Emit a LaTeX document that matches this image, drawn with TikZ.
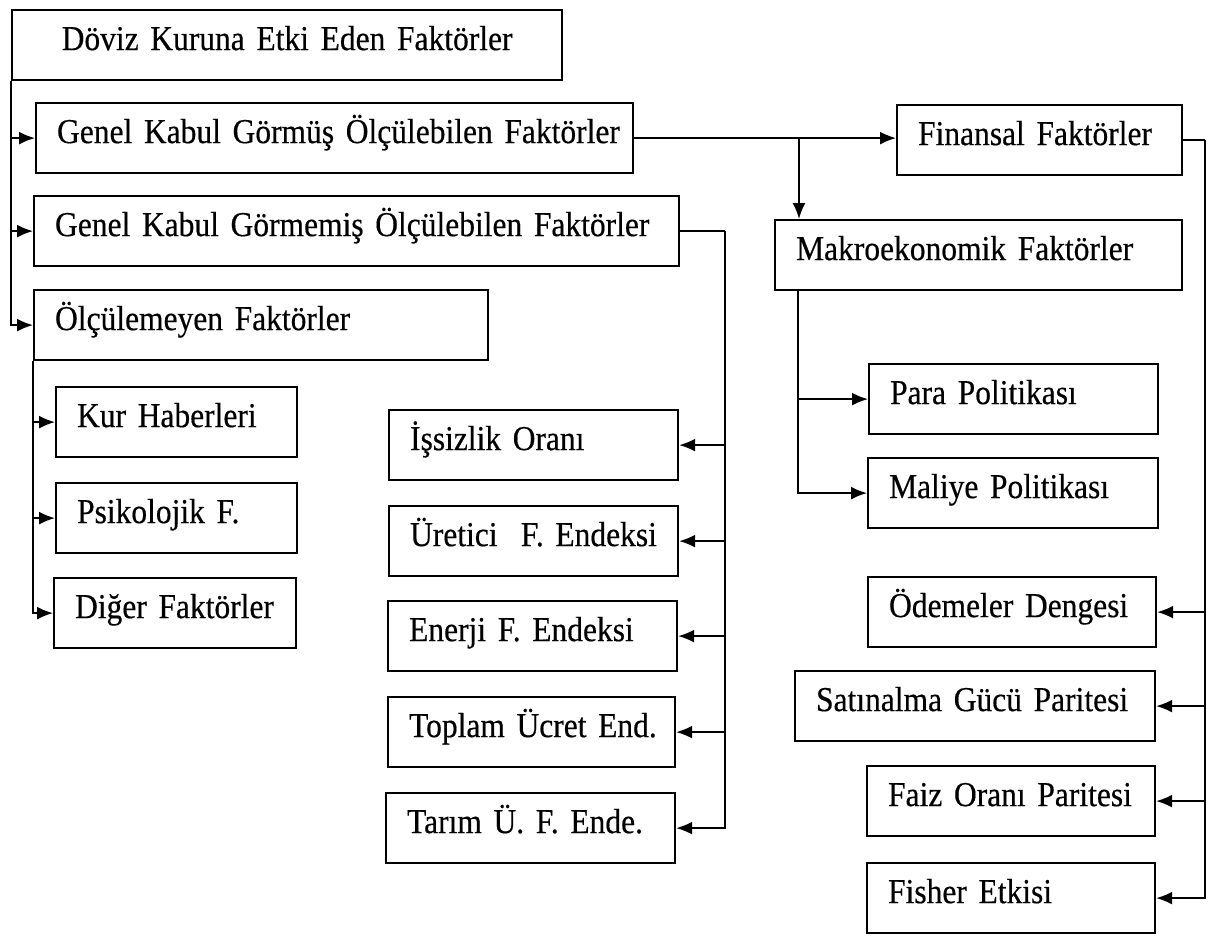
\documentclass[tikz,border=0pt]{standalone}
\usepackage{fontspec}
\setmainfont{Liberation Serif}[FakeStretch=0.9, WordSpace=0.8, FakeBold=0.4]
\usetikzlibrary{arrows.meta}

\begin{document}
\begin{tikzpicture}[x=1pt,y=-1pt]
    \def\boxheight{70pt}
    \def\pad{21pt}
    \tikzstyle{title} = [draw, line width=2.2pt, rectangle, anchor=north west, minimum height=\boxheight, inner xsep=0pt, inner ysep=0pt, text height=24pt, text depth=14pt, align=center, font=\fontsize{35}{40}\selectfont]
    \tikzstyle{factor} = [title, align=left, execute at begin node={\hspace*{\pad}}]
    \tikzstyle{signal} = [line width=1.8pt, -{Latex[length=16pt,width=13pt]}]
    \tikzstyle{bus} = [line width=1.8pt]
    \useasboundingbox (0,0) rectangle (1216,935);

    % left column
    \node[title, text width=550pt] (doviz) at (11,9) {Döviz Kuruna Etki Eden Faktörler};
    \node[factor, text width=597pt] (gkg) at (35,102) {Genel Kabul Görmüş Ölçülebilen Faktörler};
    \node[factor, text width=645pt] (gkgm) at (33,195) {Genel Kabul Görmemiş Ölçülebilen Faktörler};
    \node[factor, text width=454pt] (olc) at (33,289) {Ölçülemeyen Faktörler};
    \node[factor, text width=241pt] (kur) at (55,386) {Kur Haberleri};
    \node[factor, text width=241pt] (psi) at (55,482) {Psikolojik F.};
    \node[factor, text width=242pt] (dig) at (53,577) {Diğer Faktörler};

    % middle column
    \node[factor, text width=289pt] (iss) at (388,409) {İşsizlik Oranı};
    \node[factor, text width=289pt] (ure) at (388,505) {Üretici~~F. Endeksi};
    \node[factor, text width=289pt] (ene) at (387,600) {Enerji F. Endeksi};
    \node[factor, text width=287pt] (top) at (387,696) {Toplam Ücret End.};
    \node[factor, text width=289pt] (tar) at (385,792) {Tarım Ü. F. Ende.};

    % right column
    \node[factor, text width=285pt] (fin) at (896,104) {Finansal Faktörler};
    \node[factor, text width=407pt] (mak) at (774,219) {Makroekonomik Faktörler};
    \node[factor, text width=289pt] (para) at (868,363) {Para Politikası};
    \node[factor, text width=290pt] (mal) at (867,457) {Maliye Politikası};
    \node[factor, text width=288pt] (ode) at (867,576) {Ödemeler Dengesi};
    \node[factor, text width=360pt] (sat) at (794,670) {Satınalma Gücü Paritesi};
    \node[factor, text width=288pt] (fai) at (866,765) {Faiz Oranı Paritesi};
    \node[factor, text width=288pt] (fis) at (866,862) {Fisher Etkisi};

    % main branches
    \draw[signal] (doviz.south west) |- (olc.west);
    \draw[signal] (doviz.south west |- gkg.west) -- (gkg.west);
    \draw[signal] (doviz.south west |- gkgm.west) -- (gkgm.west);

    \draw[signal] (olc.south west) |- (kur.west);
    \draw[signal] (olc.south west) |- (psi.west);
    \draw[signal] (olc.south west) |- (dig.west);

    \draw[bus] (gkgm.east) -- ++(45,0) coordinate (gbus);
    \draw[signal] (gbus) |- (tar.east);
    \draw[signal] (gbus |- iss.east) -- (iss.east);
    \draw[signal] (gbus |- ure.east) -- (ure.east);
    \draw[signal] (gbus |- ene.east) -- (ene.east);
    \draw[signal] (gbus |- top.east) -- (top.east);

    \draw[signal] (gkg.east) -- (gkg.east -| fin.west);
    \coordinate (mtop) at ([xshift=25pt]mak.north west);
    \draw[signal] (mtop |- gkg.east) -- (mtop);

    \coordinate (mbot) at ([xshift=24pt]mak.south west);
    \draw[signal] (mbot) |- (para.west);
    \draw[signal] (mbot) |- (mal.west);

    \draw[bus] (fin.east) -- ++(22,0) coordinate (fbus);
    \draw[signal] (fbus) |- (fis.east);
    \draw[signal] (fbus |- ode.east) -- (ode.east);
    \draw[signal] (fbus |- sat.east) -- (sat.east);
    \draw[signal] (fbus |- fai.east) -- (fai.east);
\end{tikzpicture}
\end{document}
